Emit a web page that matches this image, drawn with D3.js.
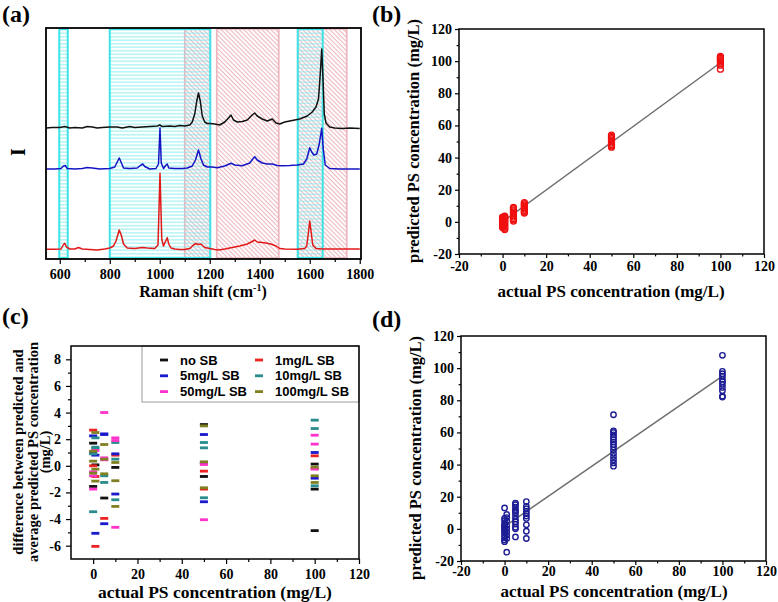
<!DOCTYPE html>
<html><head><meta charset="utf-8">
<script src="https://cdn.jsdelivr.net/npm/d3@7"></script>
<style>body{margin:0;background:#fff} svg{display:block}</style>
</head><body>
<svg id="c" width="778" height="602"></svg>
<script>
// ---------------- DATA ----------------
// Panel (a): Raman spectra [shift cm-1, intensity a.u.]
const spectrumBlack = [[545,131],[570,131.5],[600,131.5],[620,132.5],[640,131],[660,131.5],[690,131],[710,132.5],[730,132],[750,131],[770,131.5],[800,132],[830,132],[850,131],[880,132.5],[900,131.5],[930,132],[960,132.5],[990,133],[1000,134],[1010,132.5],[1040,133],[1060,132.5],[1080,133.5],[1100,133],[1120,134],[1130,137],[1140,145],[1148,158],[1155,166],[1162,158],[1170,143],[1180,137],[1190,135.5],[1200,135.5],[1220,135],[1240,134],[1260,137],[1275,141],[1285,144],[1295,139],[1310,137],[1330,137.5],[1350,139],[1370,144],[1380,146],[1390,143],[1410,140],[1430,138],[1450,140],[1465,136],[1480,135],[1500,137],[1530,138.5],[1560,140],[1590,143],[1610,147],[1625,152],[1635,160],[1642,185],[1648,210],[1653,180],[1658,145],[1665,136],[1680,132],[1700,131],[1730,130.5],[1760,131],[1800,130.5]];
const spectrumBlue = [[545,90],[580,90],[605,90.5],[615,93],[622,93.5],[630,90.5],[660,90],[690,90.5],[710,91.5],[730,91],[760,90],[800,90.5],[820,92],[832,98],[838,101],[845,97],[855,91],[880,90.5],[910,91],[925,94],[932,95],[940,92.5],[960,90],[985,90.5],[995,95],[1001,131],[1006,96],[1015,90.5],[1025,94],[1030,95],[1036,91],[1060,90.5],[1090,90.5],[1110,91],[1130,93],[1143,99],[1155,109],[1165,100],[1175,94],[1190,92],[1210,92],[1230,91.3],[1260,93],[1285,95.7],[1300,94],[1330,93.3],[1360,96],[1372,100],[1380,102.3],[1390,99],[1410,96],[1430,95],[1450,95],[1470,93.5],[1490,93.3],[1520,93.5],[1550,94],[1575,95],[1588,100],[1600,111.3],[1608,107],[1616,104],[1628,105],[1638,115],[1648,130.7],[1654,110],[1662,94],[1680,90.5],[1720,90],[1760,90],[1800,90]];
const spectrumRed = [[545,9.7],[580,9.8],[605,10],[614,14],[620,15.7],[627,12],[640,10],[660,10],[675,11.5],[690,10],[720,9.5],[750,9],[780,10],[800,11],[815,13],[825,18],[838,29],[846,24],[855,15],[870,11],[900,10.5],[930,11.5],[950,11],[980,10.5],[993,14],[1001,85.7],[1008,20],[1015,13],[1022,17],[1030,21.3],[1036,15],[1045,11],[1060,10],[1080,9.5],[1100,9.5],[1120,10.5],[1135,14],[1145,15.5],[1155,14.5],[1165,15],[1180,11.5],[1200,10.5],[1220,9.5],[1235,9],[1260,10],[1290,11.5],[1320,13],[1350,15],[1370,17.5],[1380,19],[1390,17],[1410,16.5],[1430,15.7],[1450,14.5],[1465,13],[1480,10.5],[1500,10],[1550,9.7],[1580,10.5],[1588,13],[1594,25],[1600,38],[1606,26],[1612,14],[1625,10.5],[1650,10],[1700,10],[1750,10],[1800,10]];
const cyanBands = [[598,632],[800,1202],[1552,1652]];
const pinkBands = [[1100,1202],[1228,1476],[1552,1748]];
const ticksA = [600,800,1000,1200,1400,1600,1800];
const minorA = [700,900,1100,1300,1500,1700];

// Panels (b)/(d): actual vs predicted concentrations (mg/L)
const concLevels = [0,1,5,10,50,100];
const predictedB = [
  [3,2.5,2,1.5,1,0.5,0,-0.5,-1,-1.5,-2.5,-3,-3.5],
  [3.5,3,2.5,2,1,0,-1,-2,-3,-4,-4.8],
  [9,8.3,7.5,6.8,6,5,4,3,2,1.2,0.5],
  [12,11.3,10.5,9.8,9,8,7,6.2,5.5],
  [54,53.2,52.5,51.8,51,50,49,48,47.2,46.5],
  [103,102.4,101.8,101,100.3,99.5,98.5,97.5,95]
];
const fitB = [[0,0],[100,99]];
const predictedD = [
  [13,6.5,5,3,2.5,1.5,0.5,-0.5,-1.5,-2.5,-4,-5.5,-7,-8],
  [9,7,5,2,0,-2,-4,-6,-14.5],
  [16,15,13.5,12,11,10,8,6,4.5,3,1,0,-5],
  [17,14,12.5,11,9.5,8,6.5,2.5,-1.5,-6],
  [71,61,60,58.5,57,55.5,54,52.5,51,49,47,45,43,41,39],
  [108,98,96.5,95,93,91.5,90,88,86,82.5,82]
];
const fitD = [[0,1.5],[100,95]];
const ticksBD = [-20,0,20,40,60,80,100,120];
const minorBD = [-10,10,30,50,70,90,110];

// Panel (c): difference between predicted and average predicted (mg/L)
const seriesC = ["no SB","1mg/L SB","5mg/L SB","10mg/L SB","50mg/L SB","100mg/L SB"];
const colorsC = ["#111111","#ee2222","#1a1acc","#2a8c8c","#ff33cc","#808022"];
const diffNoSB   = [[0,1.7],[0,-1.55],[1,0.07],[5,-2.42],[10,-0.12],[50,3.1],[50,-0.8],[50,0.2],[100,0.13],[100,-1.75],[100,-4.87]];
const diff1mg    = [[0,2.68],[0,0.0],[1,-0.8],[1,-6.05],[5,-3.95],[10,0.8],[50,-0.4],[50,-1.75],[100,0.75],[100,-0.2]];
const diff5mg    = [[0,2.25],[0,1.0],[1,0.8],[1,-5.07],[5,2.4],[5,2.35],[5,-4.35],[10,0.9],[10,-2.12],[50,2.35],[50,-2.7],[50,0.25],[100,1.0],[100,-0.93]];
const diff10mg   = [[0,-3.45],[0,0.9],[1,2.1],[1,1.4],[1,1.3],[5,-0.75],[5,-1.25],[10,1.75],[10,0.5],[10,-2.55],[50,1.75],[50,1.35],[50,-2.4],[100,3.43],[100,2.8],[100,-1.5]];
const diff50mg   = [[0,-0.45],[0,-0.75],[0,-1.75],[1,1.15],[5,4.0],[5,0.6],[5,0.45],[10,2.1],[10,1.9],[10,-4.62],[50,-4.05],[50,0.1],[100,2.3],[100,1.63],[100,-0.25]];
const diff100mg  = [[0,1.1],[0,0.35],[0,-0.55],[1,2.5],[1,-0.25],[1,-1.15],[5,1.6],[5,0.5],[5,-0.6],[10,0.25],[10,-1.12],[10,-3.05],[50,3.0],[50,-1.65],[50,0.3],[100,-0.1],[100,-0.75],[100,-1.25]];
const ticksCx = [0,20,40,60,80,100,120];
const minorCx = [10,30,50,70,90,110];
const ticksCy = [-6,-4,-2,0,2,4,6,8];
const minorCy = [-5,-3,-1,1,3,5,7];

// ---------------- DRAWING ----------------
const svg = d3.select("#c");
const serif = "'Liberation Serif','Times New Roman',serif";
const sans = "'Liberation Sans',Arial,sans-serif";

const defs = svg.append("defs");
const ph = defs.append("pattern").attr("id","hatchH").attr("patternUnits","userSpaceOnUse")
  .attr("width",8).attr("height",3.5);
ph.append("line").attr("x1",0).attr("x2",8).attr("y1",1.75).attr("y2",1.75)
  .attr("stroke","#7eeaee").attr("stroke-width",1);
const pd = defs.append("pattern").attr("id","hatchD").attr("patternUnits","userSpaceOnUse")
  .attr("width",3.2).attr("height",8).attr("patternTransform","rotate(-45)");
pd.append("line").attr("x1",1).attr("x2",1).attr("y1",0).attr("y2",8)
  .attr("stroke","#e8a3ad").attr("stroke-width",0.85);

function frame(x0,y0,x1,y1,sw){
  svg.append("rect").attr("x",x0).attr("y",y0).attr("width",x1-x0).attr("height",y1-y0)
    .attr("fill","none").attr("stroke","#000").attr("stroke-width",sw||1.5);
}
function styleAxis(g, fs){
  g.select(".domain").remove();
  g.selectAll("line").attr("stroke","#000").attr("stroke-width",1.2);
  g.selectAll("text").attr("font-family",serif).attr("font-weight","bold")
    .attr("font-size",fs).attr("fill","#000");
}
function bottomAxis(scale, y, majors, minors, size, pad, fs){
  const g = svg.append("g").attr("transform",`translate(0,${y})`)
    .call(d3.axisBottom(scale).tickValues(majors).tickSize(size).tickSizeOuter(0).tickPadding(pad).tickFormat(d=>String(d)));
  styleAxis(g, fs);
  if (minors){
    const m = svg.append("g").attr("transform",`translate(0,${y})`)
      .call(d3.axisBottom(scale).tickValues(minors).tickSize(size*0.6).tickSizeOuter(0).tickFormat(""));
    styleAxis(m, fs);
  }
}
function leftAxis(scale, x, majors, minors, size, pad, fs){
  const g = svg.append("g").attr("transform",`translate(${x},0)`)
    .call(d3.axisLeft(scale).tickValues(majors).tickSize(size).tickSizeOuter(0).tickPadding(pad).tickFormat(d=>String(d)));
  styleAxis(g, fs);
  if (minors){
    const m = svg.append("g").attr("transform",`translate(${x},0)`)
      .call(d3.axisLeft(scale).tickValues(minors).tickSize(size*0.6).tickSizeOuter(0).tickFormat(""));
    styleAxis(m, fs);
  }
}
function text(x,y,str,fs,opts){
  opts = opts||{};
  const t = svg.append("text").attr("x",x).attr("y",y).text(str)
    .attr("font-family",opts.family||serif).attr("font-weight","bold").attr("font-size",fs)
    .attr("text-anchor",opts.anchor||"middle").attr("fill","#000");
  if (opts.rotate) t.attr("transform",`rotate(${opts.rotate},${x},${y})`);
  return t;
}

// ===== Panel (a) =====
const A = {l:46, r:361, t:28, b:259};
const xA = d3.scaleLinear().domain([545,1805]).range([A.l,A.r]);
const yA = d3.scaleLinear().domain([0,231]).range([A.b,A.t]);
svg.append("g").selectAll("rect").data(pinkBands).join("rect")
  .attr("x",d=>xA(d[0])).attr("width",d=>xA(d[1])-xA(d[0]))
  .attr("y",A.t+1).attr("height",A.b-A.t-2)
  .attr("fill","url(#hatchD)").attr("stroke","#efb5bf").attr("stroke-width",1.7);
svg.append("g").selectAll("rect").data(cyanBands).join("rect")
  .attr("x",d=>xA(d[0])).attr("width",d=>xA(d[1])-xA(d[0]))
  .attr("y",A.t+1).attr("height",A.b-A.t-2)
  .attr("fill","url(#hatchH)").attr("fill-opacity",0.9).attr("stroke","#3ee3e6").attr("stroke-width",2);
const lineA = d3.line().x(d=>xA(d[0])).y(d=>yA(d[1]));
[[spectrumBlack,"#111"],[spectrumBlue,"#1414c4"],[spectrumRed,"#e31818"]].forEach(([data,c])=>{
  svg.append("path").datum(data).attr("d",lineA).attr("fill","none")
    .attr("stroke",c).attr("stroke-width",1.5).attr("stroke-linejoin","round");
});
frame(A.l,A.t,A.r,A.b,1.8);
bottomAxis(xA, A.b, ticksA, minorA, 5, 5, 14);
text(25,152,"I",20,{rotate:-90});
const xl = text(203,297,"Raman shift (cm",16);
xl.append("tspan").attr("font-size",10).attr("dy",-6).text("-1");
xl.append("tspan").attr("dy",6).text(")");
text(2,22,"(a)",24,{anchor:"start"});

// ===== Panel (b) =====
const B = {l:459, r:764, t:29, b:254};
const xB = d3.scaleLinear().domain([-20,120]).range([B.l,B.r]);
const yB = d3.scaleLinear().domain([-20,120]).range([B.b,B.t]);
svg.append("path").datum(fitB).attr("d",d3.line().x(d=>xB(d[0])).y(d=>yB(d[1])))
  .attr("stroke","#6e6e6e").attr("stroke-width",1.5).attr("fill","none");
concLevels.forEach((c,i)=>{
  svg.append("g").selectAll("circle").data(predictedB[i]).join("circle")
    .attr("cx",xB(c)).attr("cy",d=>yB(d)).attr("r",3)
    .attr("fill","none").attr("stroke","#f01010").attr("stroke-width",1.3);
});
frame(B.l,B.t,B.r,B.b,1.5);
bottomAxis(xB, B.b, ticksBD, minorBD, 4, 3, 14);
leftAxis(yB, B.l, ticksBD, minorBD, 4, 3, 14);
text(419,141,"predicted PS concentration (mg/L)",16.5,{rotate:-90});
text(611,297,"actual PS concentration (mg/L)",17);
text(372,22,"(b)",24,{anchor:"start"});

// ===== Panel (c) =====
const C = {l:71, r:359, t:346, b:559};
const xC = d3.scaleLinear().domain([-10,120]).range([C.l,C.r]);
const yC = d3.scaleLinear().domain([-7,9]).range([C.b,C.t]);
[diffNoSB,diff1mg,diff5mg,diff10mg,diff50mg,diff100mg].forEach((data,i)=>{
  svg.append("g").selectAll("rect").data(data).join("rect")
    .attr("x",d=>xC(d[0])-4).attr("y",d=>yC(d[1])-1.4).attr("width",8).attr("height",2.8)
    .attr("fill",colorsC[i]);
});
const LG = {l:142, t:346, r:359, b:402};
svg.append("rect").attr("x",LG.l).attr("y",LG.t).attr("width",LG.r-LG.l).attr("height",LG.b-LG.t)
  .attr("fill","#fff").attr("stroke","#9a9a9a").attr("stroke-width",1);
seriesC.forEach((s,i)=>{
  const col = i%2, row = Math.floor(i/2);
  const mx = col===0 ? 164 : 259, ty = 360 + row*15.8;
  svg.append("rect").attr("x",mx-4).attr("y",ty-1.4).attr("width",8).attr("height",2.8).attr("fill",colorsC[i]);
  text(mx+16,ty+4.6,s,13,{anchor:"start",family:sans});
});
frame(C.l,C.t,C.r,C.b,1.5);
bottomAxis(xC, C.b, ticksCx, minorCx, 5, 5, 14);
leftAxis(yC, C.l, ticksCy, minorCy, 5, 5, 14);
text(23,452,"difference between predicted and",14.5,{rotate:-90});
text(38,452,"average predicted PS concentration",14.5,{rotate:-90});
text(50,452,"(mg/L)",14.5,{rotate:-90});
text(215,598,"actual PS concentration (mg/L)",17.5);
text(2,324,"(c)",24,{anchor:"start"});

// ===== Panel (d) =====
const D = {l:461, r:766, t:336, b:561};
const xD = d3.scaleLinear().domain([-20,120]).range([D.l,D.r]);
const yD = d3.scaleLinear().domain([-20,120]).range([D.b,D.t]);
svg.append("path").datum(fitD).attr("d",d3.line().x(d=>xD(d[0])).y(d=>yD(d[1])))
  .attr("stroke","#6e6e6e").attr("stroke-width",1.5).attr("fill","none");
concLevels.forEach((c,i)=>{
  svg.append("g").selectAll("circle").data(predictedD[i]).join("circle")
    .attr("cx",xD(c)).attr("cy",d=>yD(d)).attr("r",2.7)
    .attr("fill","none").attr("stroke","#1c1c94").attr("stroke-width",1.4);
});
frame(D.l,D.t,D.r,D.b,1.5);
bottomAxis(xD, D.b, ticksBD, minorBD, 4, 1, 14);
leftAxis(yD, D.l, ticksBD, minorBD, 4, 3, 14);
text(421,458,"predicted PS concentration (mg/L)",16.5,{rotate:-90});
text(614,597,"actual PS concentration (mg/L)",17);
text(372,327,"(d)",24,{anchor:"start"});
</script>
</body></html>
